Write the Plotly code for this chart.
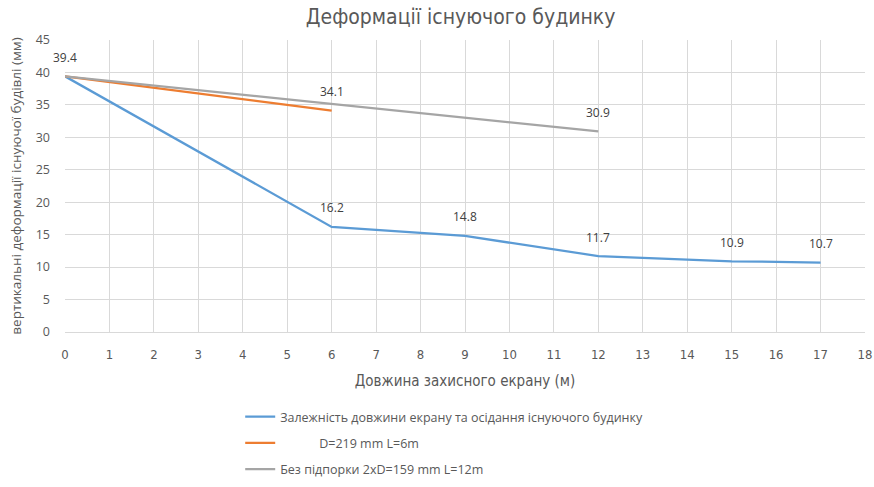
import plotly.graph_objects as go

# Screen length (m) vs settlement of the existing building (mm)
screen_x = [0, 6, 9, 12, 15, 17]
screen_y = [39.4, 16.2, 14.8, 11.7, 10.9, 10.7]

strut_x = [0, 6]
strut_y = [39.4, 34.1]

nostrut_x = [0, 12]
nostrut_y = [39.4, 30.9]

names = [
    "Залежність довжини екрану та осідання існуючого будинку",
    "\u00a0" * 12 + "D=219 mm L=6m",
    "Без підпорки 2xD=159 mm L=12m",
]
colors = ["#5b9bd5", "#ed7d31", "#a5a5a5"]

x_ticks = list(range(0, 19))
y_ticks = list(range(0, 46, 5))

fig = go.Figure()
series = [(screen_x, screen_y), (strut_x, strut_y), (nostrut_x, nostrut_y)]
for i, ((xs, ys), name, col) in enumerate(zip(series, names, colors)):
    fig.add_trace(go.Scatter(x=xs, y=ys, mode="lines", name=name, legendgroup=f"g{i}",
                             line=dict(color=col, width=2.25)))

# value labels
label_pts = list(zip(screen_x, screen_y)) + [(strut_x[-1], strut_y[-1]), (nostrut_x[-1], nostrut_y[-1])]
for x, y in label_pts:
    fig.add_annotation(x=x, y=y, text=f"{y:.1f}", showarrow=False, yshift=19,
                       font=dict(family="Open Sans", size=12, color="#404040"))

grid = "#d9d9d9"
narrow = "DejaVu Sans Condensed, Liberation Sans Narrow, Open Sans"

fig.update_layout(
    width=874, height=487,
    margin=dict(l=65, r=9, t=40, b=155, autoexpand=False),
    paper_bgcolor="white", plot_bgcolor="white",
    title=dict(text="Деформації існуючого будинку", x=0.527, xanchor="center",
               y=0.965, yanchor="middle",
               font=dict(family=narrow, size=21, color="#595959")),
    xaxis=dict(range=[0, 18], tickvals=x_ticks, showgrid=True, gridcolor=grid,
               zeroline=False, showline=True, linecolor=grid, automargin=False,
               tickfont=dict(family=narrow, size=13, color="#595959"),
               ticks="", ticklabelstandoff=10,
               title=dict(text="Довжина захисного екрану (м)", standoff=14,
                          font=dict(family=narrow, size=15, color="#595959"))),
    yaxis=dict(range=[0, 45], tickvals=y_ticks, showgrid=True, gridcolor=grid,
               zeroline=False, showline=False, automargin=False,
               tickfont=dict(family="Open Sans", size=12.5, color="#595959"),
               ticks="", ticklabelstandoff=14,
               title=dict(text="вертикальні деформації існуючої будівлі (мм)", standoff=10,
                          font=dict(family="Open Sans", size=13.5, color="#595959"))),
    legend=dict(x=0.219, xanchor="left", y=-0.24, yanchor="top",
                font=dict(family="Open Sans", size=12.5, color="#595959"),
                tracegroupgap=7, bgcolor="rgba(0,0,0,0)"),
    showlegend=True,
)

fig.write_html("out.html")
